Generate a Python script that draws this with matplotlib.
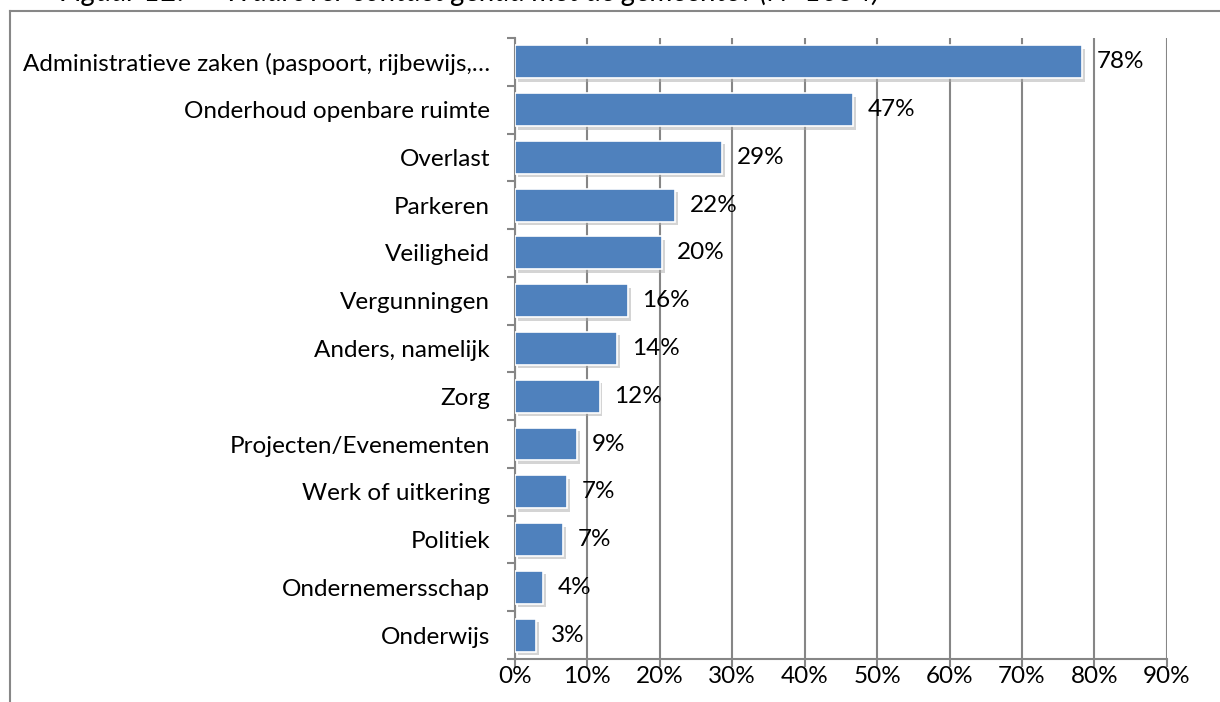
import numpy as np
import matplotlib.pyplot as plt
from matplotlib import patheffects
from matplotlib.lines import Line2D
from matplotlib.ticker import FixedLocator, PercentFormatter

categories = [
    'Administratieve zaken (paspoort, rijbewijs,\u2026',
    'Onderhoud openbare ruimte',
    'Overlast',
    'Parkeren',
    'Veiligheid',
    'Vergunningen',
    'Anders, namelijk',
    'Zorg',
    'Projecten/Evenementen',
    'Werk of uitkering',
    'Politiek',
    'Ondernemersschap',
    'Onderwijs',
]
values = [78.3, 46.7, 28.6, 22.1, 20.3, 15.6, 14.1, 11.7, 8.6, 7.2, 6.6, 3.9, 2.9]
x_ticks = [0, 10, 20, 30, 40, 50, 60, 70, 80, 90]
title = 'Figuur 12.\u2003\u2003Waarover contact gehad met de gemeente? (N=1054)'

plt.rcParams['font.family'] = ['Lato', 'DejaVu Sans']

fig = plt.figure(figsize=(12.2, 7.02), dpi=100)
ax = fig.add_axes([0.4221, 0.0613, 0.5344, 0.8846])

grid_col = '#868686'
bar_col = '#4F81BD'
fs = 17.5

y = np.arange(len(categories))
bars = ax.barh(y, values, height=0.69, color=bar_col, edgecolor='white',
               linewidth=1.2, zorder=3)
for b in bars:
    b.set_path_effects([patheffects.SimplePatchShadow(offset=(2, -2.5), shadow_rgbFace='#aaaaaa', alpha=0.5),
                        patheffects.Normal()])

for yi, v in zip(y, values):
    ax.text(v + 2.0, yi, '%d%%' % round(v), va='center', ha='left', fontsize=fs, color='black', zorder=4)

ax.set_xlim(0, 90)
ax.set_ylim(len(categories) - 0.5, -0.5)
ax.set_xticks(x_ticks)
ax.xaxis.set_major_formatter(PercentFormatter(decimals=0))
ax.set_yticks(y)
ax.set_yticklabels(categories)
ax.yaxis.set_minor_locator(FixedLocator(np.arange(-0.5, len(categories), 1.0)))

ax.tick_params(axis='y', which='major', length=0, pad=18, labelsize=fs)
ax.tick_params(axis='y', which='minor', length=6, width=1.5, color=grid_col, direction='out')
ax.tick_params(axis='x', which='major', length=6, width=1.5, color=grid_col, direction='out',
               pad=-1, labelsize=fs)

ax.grid(axis='x', color=grid_col, linewidth=1.5, zorder=0)
ax.set_axisbelow(True)
for side in ('top', 'right'):
    ax.spines[side].set_visible(False)
for side in ('left', 'bottom'):
    ax.spines[side].set_color(grid_col)
    ax.spines[side].set_linewidth(1.5)

# outer chart frame, partly cut off in the original
fig.add_artist(Line2D([10 / 1220, 10 / 1220], [0, 1 - 11 / 702], color='#878787', linewidth=1.5))
fig.add_artist(Line2D([10 / 1220, 1], [1 - 11 / 702, 1 - 11 / 702], color='#878787', linewidth=1.5))

# caption above the chart, only its lower edge shows in the original
fig.text(60 / 1220, 1 - 1.5 / 702, title, fontsize=21, style='italic', va='baseline', ha='left')

fig.savefig('out.png', dpi=100)
